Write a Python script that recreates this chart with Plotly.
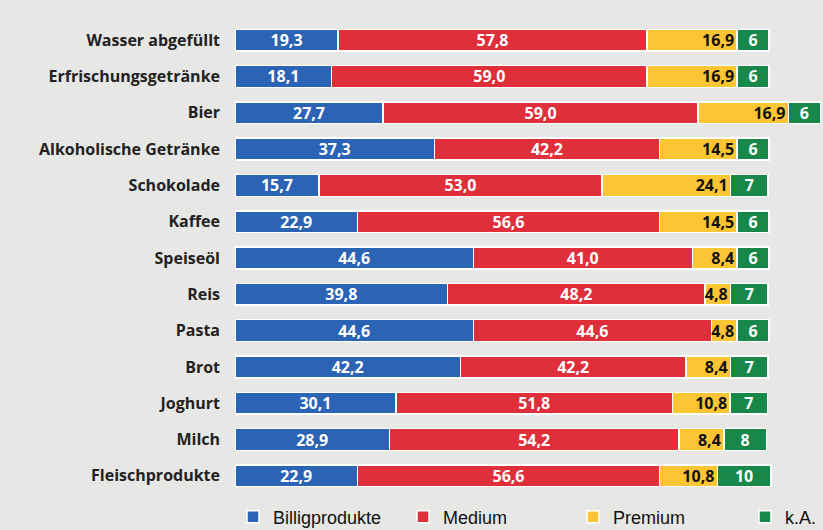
import plotly.graph_objects as go

categories = ["Wasser abgefüllt", "Erfrischungsgetränke", "Bier", "Alkoholische Getränke",
              "Schokolade", "Kaffee", "Speiseöl", "Reis", "Pasta", "Brot", "Joghurt",
              "Milch", "Fleischprodukte"]
billig = [19.3, 18.1, 27.7, 37.3, 15.7, 22.9, 44.6, 39.8, 44.6, 42.2, 30.1, 28.9, 22.9]
medium = [57.8, 59.0, 59.0, 42.2, 53.0, 56.6, 41.0, 48.2, 44.6, 42.2, 51.8, 54.2, 56.6]
premium = [16.9, 16.9, 16.9, 14.5, 24.1, 14.5, 8.4, 4.8, 4.8, 8.4, 10.8, 8.4, 10.8]
ka = [6, 6, 6, 6, 7, 6, 6, 7, 6, 7, 7, 8, 10]

series = [
    ("Billigprodukte", billig, "#2b63b5", "white", "middle", "legend", 0.2831),
    ("Medium", medium, "#df2f3a", "white", "middle", "legend2", 0.4897),
    ("Premium", premium, "#fbc533", "#111111", "end", "legend3", 0.6962),
    ("k.A.", ka, "#17884a", "white", "middle", "legend4", 0.9052),
]

def fmt(v):
    if isinstance(v, int):
        return str(v)
    return f"{v:.1f}".replace(".", ",")

totals = [a + b + c + d for a, b, c, d in zip(billig, medium, premium, ka)]

fig = go.Figure()
legends = {}
for name, vals, color, tcol, anchor, lg, lx in series:
    fig.add_trace(go.Bar(
        y=categories, x=vals, name=name, orientation="h", legend=lg, showlegend=True,
        marker=dict(color=color, line=dict(color="white", width=1.5)),
        text=[fmt(v) for v in vals], textposition="inside", insidetextanchor=anchor,
        textangle=0,
        textfont=dict(color=tcol, size=16, family="Open Sans", weight=700),
        constraintext="none",
    ))
    legends[lg] = dict(orientation="h", x=lx, xref="container", y=13 / 530, yref="container",
                       xanchor="left", yanchor="middle",
                       font=dict(size=18, family="Liberation Sans", color="#111111"),
                       bgcolor="rgba(0,0,0,0)")

fig.update_layout(
    width=823, height=530, barmode="stack", bargap=0.4, showlegend=True,
    paper_bgcolor="#e7e7e5", plot_bgcolor="#e7e7e5",
    margin=dict(l=235, r=2, t=22, b=36, autoexpand=False),
    xaxis=dict(range=[0, max(totals) + 0.1], visible=False, fixedrange=True),
    yaxis=dict(autorange="reversed", showgrid=False, ticks="", ticklabelstandoff=14,
               fixedrange=True,
               tickfont=dict(size=16, family="Open Sans", color="#222222", weight=700)),
    uniformtext=dict(mode=False),
    **legends,
)

fig.write_html("out.html", config={"displayModeBar": False},
               post_script="document.body.style.margin='0';")
